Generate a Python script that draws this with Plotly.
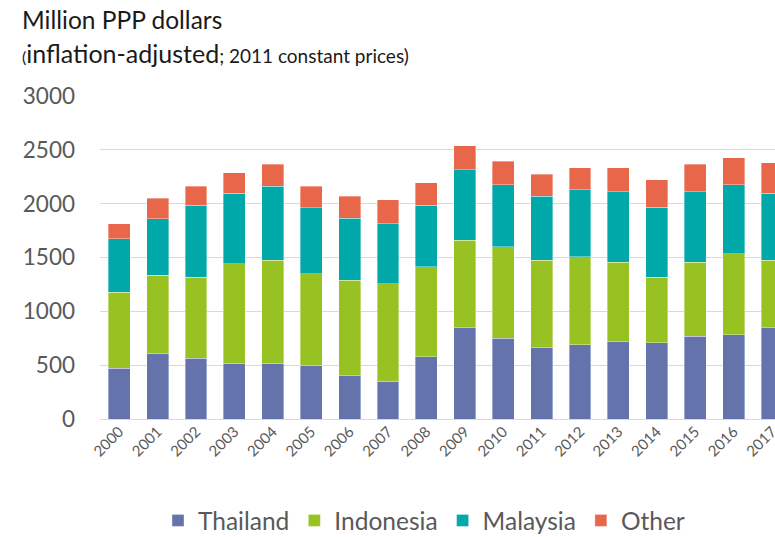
import plotly.graph_objects as go

years = [str(y) for y in range(2000, 2018)]
thailand  = [470, 611, 565, 518, 518, 500, 404, 349, 580, 846, 750, 660, 688, 719, 707, 768, 784, 846]
indonesia = [706, 722, 753, 926, 957, 849, 883, 907, 833, 814, 849, 815, 818, 738, 611, 689, 753, 629]
malaysia  = [500, 528, 669, 651, 685, 611, 577, 559, 574, 655, 577, 593, 623, 654, 651, 654, 639, 623]
other     = [139, 191, 173, 192, 204, 200, 204, 222, 207, 222, 219, 203, 204, 222, 253, 253, 250, 281]

series = [
    ("Thailand", thailand, "#6573AD"),
    ("Indonesia", indonesia, "#98C122"),
    ("Malaysia", malaysia, "#00A8AA"),
    ("Other", other, "#E8674A"),
]

FONT = "Lato, 'Open Sans', sans-serif"
fig = go.Figure()
for name, vals, col in series:
    fig.add_trace(go.Bar(
        x=list(range(len(years))), y=vals, name=name,
        marker=dict(color=col, line=dict(width=0.6, color="rgba(255,255,255,0.6)")),
    ))

W, H = 775, 537
L, R, T, B = 100, 0, 95.7, 537 - 419.3
pw, ph = W - L - R, H - T - B

def px(x):
    return (x - L) / pw

def py(y):
    return (H - B - y) / ph

fig.update_layout(
    width=W, height=H,
    margin=dict(l=L, r=R, t=T, b=B, autoexpand=False),
    barmode="stack", bargap=0.43,
    plot_bgcolor="white", paper_bgcolor="white",
    font=dict(family=FONT, color="#595959"),
    xaxis=dict(
        range=[-0.5, -0.5 + pw / 38.4],
        tickmode="array", tickvals=list(range(len(years))), ticktext=years,
        tickangle=-45, tickfont=dict(size=15, color="#595959"),
        ticklabeloverflow="allow",
        showgrid=False, showline=False, zeroline=False, ticks="",
        fixedrange=True,
    ),
    yaxis=dict(
        range=[0, 3000], tickvals=[0, 500, 1000, 1500, 2000, 2500, 3000],
        tickfont=dict(size=22.5, color="#595959"),
        showgrid=True, gridcolor="#D9D9D9", gridwidth=1,
        zeroline=True, zerolinecolor="#D9D9D9", zerolinewidth=1,
        showline=False, ticks="", ticklabelstandoff=24,
    ),
    legend=dict(
        orientation="h", x=px(424), xanchor="center", y=py(521), yanchor="middle",
        font=dict(size=24.5, color="#595959"), traceorder="normal",
        itemwidth=30, bgcolor="rgba(0,0,0,0)",
    ),
    showlegend=True,
    annotations=[
        dict(text="Million PPP dollars", xref="paper", yref="paper",
             x=px(20), y=py(19), xanchor="left", yanchor="middle",
             showarrow=False, font=dict(size=24.5, color="#1a1a1a", family=FONT)),
        dict(text="<span style='font-size:16px'>(</span>inflation-adjusted"
                  "<span style='font-size:19px'>; 2011 constant prices)</span>",
             xref="paper", yref="paper",
             x=px(20), y=py(53), xanchor="left", yanchor="middle",
             showarrow=False, font=dict(size=25, color="#1a1a1a", family=FONT)),
    ],
)

fig.write_html(
    "out.html",
    config={"displayModeBar": False},
    post_script="document.body.style.margin='0px';document.body.style.overflow='hidden';",
)
